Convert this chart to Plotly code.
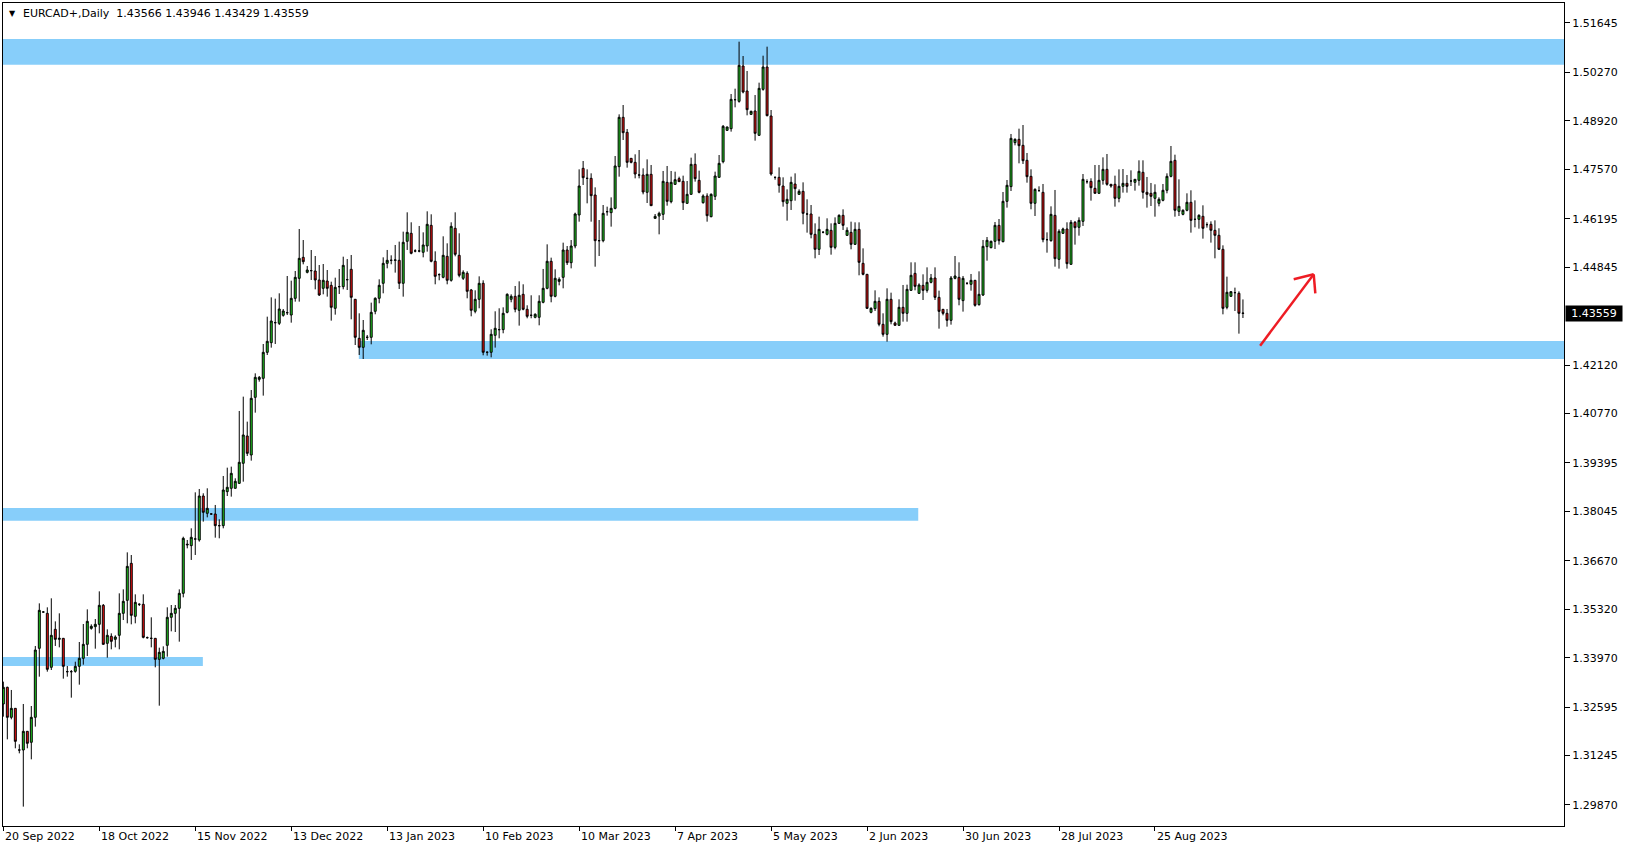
import plotly.graph_objects as go

header_text = "EURCAD+,Daily\u00a0\u00a01.43566 1.43946 1.43429 1.43559"
last_price = 1.43559

date_labels = ["20 Sep 2022", "18 Oct 2022", "15 Nov 2022", "13 Dec 2022", "13 Jan 2023",
               "10 Feb 2023", "10 Mar 2023", "7 Apr 2023", "5 May 2023", "2 Jun 2023",
               "30 Jun 2023", "28 Jul 2023", "25 Aug 2023"]
bars_per_label = 24

price_ticks = [1.51645, 1.50270, 1.48920, 1.47570, 1.46195, 1.44845, 1.42120, 1.40770,
               1.39395, 1.38045, 1.36670, 1.35320, 1.33970, 1.32595, 1.31245, 1.29870]

opens = [
 1.32682,1.33146,1.32311,1.32561,1.31401,1.31401,1.31921,1.31615,1.32311,1.34232,
 1.35243,1.35206,1.33703,1.34761,1.34482,1.34510,1.33582,1.33582,1.33591,1.33730,
 1.33953,1.34343,1.34788,1.34835,1.34900,1.35429,1.34371,1.34566,1.34482,1.34594,
 1.35206,1.35568,1.36598,1.35122,1.35457,1.35457,1.34529,1.34510,1.34510,1.33925,
 1.33953,1.34315,1.35095,1.35206,1.35345,1.35763,1.37109,1.37091,1.37276,1.37248,
 1.38473,1.37991,1.37972,1.37972,1.37647,1.37647,1.38594,1.38687,1.38687,1.38826,
 1.39383,1.40144,1.39615,1.41220,1.41721,1.41749,1.42473,1.42742,1.43299,1.43280,
 1.43503,1.43577,1.43512,1.43976,1.44533,1.45118,1.44700,1.44747,1.44737,1.44487,
 1.44255,1.44459,1.44338,1.43698,1.44301,1.44301,1.44496,1.44784,1.43949,1.42863,
 1.42612,1.42891,1.42891,1.43615,1.43977,1.44395,1.44951,1.45035,1.45035,1.45035,
 1.44395,1.45564,1.45787,1.45295,1.45295,1.45258,1.45434,1.46009,1.45007,1.44636,
 1.44562,1.45146,1.44478,1.45926,1.45174,1.44534,1.44673,1.44209,1.43615,1.43949,
 1.44395,1.42474,1.42474,1.42947,1.43105,1.43105,1.43587,1.43949,1.44033,1.43643,
 1.44088,1.43671,1.43504,1.43448,1.43448,1.43866,1.44255,1.45007,1.44033,1.44449,
 1.44561,1.45322,1.44969,1.45434,1.46297,1.47596,1.47317,1.47317,1.46853,1.45582,
 1.45582,1.46389,1.46362,1.46482,1.47642,1.49016,1.48598,1.47874,1.47763,1.47410,
 1.47410,1.46928,1.47429,1.46204,1.46269,1.46315,1.47206,1.46668,1.47150,1.47308,
 1.47234,1.46621,1.46872,1.47707,1.47262,1.46640,1.46826,1.46250,1.46816,1.47345,
 1.47781,1.48654,1.48700,1.49507,1.49461,1.50445,1.49749,1.49099,1.49192,1.48515,
 1.49795,1.50417,1.49053,1.47345,1.47345,1.47104,1.46621,1.46695,1.47159,1.46872,
 1.46955,1.46324,1.46324,1.45758,1.45341,1.45814,1.45758,1.45870,1.45396,1.46064,
 1.46287,1.45730,1.45814,1.45480,1.45897,1.44951,1.44645,1.43587,1.43689,1.43893,
 1.43253,1.42974,1.43949,1.43290,1.43225,1.43726,1.43559,1.44199,1.44672,1.44116,
 1.44338,1.44199,1.44422,1.44542,1.44004,1.43670,1.43559,1.43364,1.44533,1.44561,
 1.43912,1.44394,1.44367,1.44478,1.43800,1.44069,1.45415,1.45387,1.45564,1.46009,
 1.45554,1.46677,1.47086,1.48311,1.48403,1.48236,1.47819,1.47373,1.46622,1.46974,
 1.46928,1.45610,1.45582,1.46287,1.45062,1.45786,1.45907,1.44923,1.46093,1.45954,
 1.46120,1.47225,1.47234,1.47039,1.46900,1.47262,1.47568,1.47151,1.47151,1.46761,
 1.47095,1.47178,1.47243,1.47206,1.47262,1.47485,1.46928,1.46900,1.46761,1.46622,
 1.46705,1.46984,1.47373,1.47819,1.46399,1.46315,1.46427,1.46650,1.46176,1.46176,
 1.46260,1.46028,1.46037,1.45870,1.45731,1.45341,1.43726,1.44033,1.44135,1.44116,
 1.43566]

highs = [
 1.33304,1.33164,1.33072,1.32570,1.31559,1.32682,1.31930,1.32626,1.34297,1.35484,
 1.35260,1.35373,1.35624,1.34983,1.35206,1.34520,1.33740,1.33628,1.33860,1.34408,
 1.34909,1.35317,1.34900,1.35048,1.35818,1.35466,1.34761,1.34649,1.34594,1.35763,
 1.35874,1.36904,1.36830,1.35735,1.35484,1.35735,1.34560,1.35095,1.34520,1.34250,
 1.34287,1.35373,1.35438,1.35438,1.35874,1.37340,1.37248,1.37573,1.38575,1.38668,
 1.38548,1.38687,1.37990,1.38223,1.37824,1.39030,1.39262,1.39290,1.38965,1.40840,
 1.41239,1.40543,1.41424,1.41888,1.41814,1.42705,1.43466,1.44004,1.43967,1.44116,
 1.43679,1.44598,1.44468,1.44737,1.45907,1.45600,1.44877,1.45322,1.45155,1.44904,
 1.44932,1.44765,1.44440,1.44552,1.44793,1.45136,1.45071,1.45183,1.43958,1.43559,
 1.43373,1.42956,1.43856,1.44005,1.44506,1.45118,1.45323,1.45174,1.45462,1.45555,
 1.45833,1.46371,1.46093,1.45342,1.45991,1.45814,1.46399,1.46316,1.45285,1.44673,
 1.45703,1.45508,1.46093,1.46371,1.45787,1.44757,1.44729,1.44237,1.44200,1.44589,
 1.44478,1.42502,1.43114,1.43615,1.43699,1.43726,1.44116,1.44088,1.44320,1.44450,
 1.44367,1.43782,1.44061,1.43559,1.44061,1.44794,1.45480,1.45109,1.44784,1.44562,
 1.45526,1.45433,1.45600,1.46362,1.47568,1.47800,1.47568,1.47457,1.47067,1.46157,
 1.46575,1.46529,1.46788,1.47939,1.49099,1.49359,1.48691,1.47880,1.47986,1.48106,
 1.47596,1.47846,1.47689,1.46324,1.46389,1.47522,1.47661,1.47522,1.47503,1.47364,
 1.47392,1.47243,1.47893,1.48013,1.47531,1.46872,1.46900,1.46900,1.47503,1.47967,
 1.48802,1.48756,1.49665,1.49814,1.51122,1.50723,1.50306,1.49201,1.49637,1.49981,
 1.50732,1.50983,1.49220,1.47360,1.47623,1.47345,1.47011,1.47364,1.47456,1.47011,
 1.47206,1.46733,1.46575,1.46064,1.46250,1.45851,1.46204,1.46064,1.46231,1.46315,
 1.46454,1.45953,1.46111,1.46092,1.46092,1.45368,1.44654,1.43726,1.44199,1.44004,
 1.43559,1.44255,1.44134,1.43327,1.43949,1.44348,1.44357,1.44979,1.44979,1.44394,
 1.44645,1.44839,1.44654,1.44839,1.44190,1.43680,1.43680,1.44598,1.45155,1.44979,
 1.44599,1.44422,1.44654,1.44487,1.44728,1.45601,1.45684,1.45582,1.46102,1.46185,
 1.46937,1.47271,1.48552,1.48431,1.48700,1.48802,1.48023,1.47568,1.47039,1.47095,
 1.47160,1.45814,1.46538,1.46993,1.45898,1.45944,1.46093,1.46158,1.46130,1.46232,
 1.47438,1.47290,1.47318,1.47689,1.47689,1.47902,1.47995,1.47160,1.47392,1.47568,
 1.47577,1.47410,1.47540,1.47299,1.47819,1.47819,1.47355,1.47188,1.47151,1.46789,
 1.47160,1.47457,1.48218,1.47976,1.47290,1.46455,1.46900,1.46984,1.46705,1.46315,
 1.46566,1.46093,1.46120,1.46148,1.45926,1.45452,1.44580,1.44172,1.44274,1.44172,
 1.43946]

lows = [
 1.32329,1.31698,1.32255,1.31448,1.31308,1.29824,1.31448,1.31141,1.32051,1.33443,
 1.35230,1.33582,1.33628,1.34297,1.34259,1.33387,1.33443,1.32858,1.33554,1.33220,
 1.33777,1.34018,1.34751,1.34222,1.34649,1.34330,1.33972,1.34204,1.34259,1.34204,
 1.35020,1.34928,1.34900,1.34928,1.35410,1.34510,1.34500,1.34259,1.33703,1.32635,
 1.33925,1.34000,1.34705,1.34686,1.34417,1.35651,1.37016,1.36692,1.36831,1.37202,
 1.37759,1.37879,1.37955,1.37313,1.37295,1.37573,1.38473,1.38455,1.38678,1.38807,
 1.38872,1.39587,1.39457,1.40793,1.41656,1.41267,1.42399,1.42603,1.42705,1.43234,
 1.43466,1.43512,1.43299,1.43884,1.43884,1.44923,1.44672,1.44487,1.44227,1.44041,
 1.44088,1.44023,1.43355,1.43522,1.44097,1.44227,1.44208,1.43392,1.42677,1.42399,
 1.42287,1.42816,1.42696,1.43532,1.43838,1.44116,1.44812,1.44924,1.44692,1.44237,
 1.44023,1.45323,1.45202,1.45258,1.45258,1.45118,1.45276,1.44979,1.44367,1.44478,
 1.44534,1.44367,1.44441,1.45146,1.44562,1.44487,1.43977,1.43476,1.43559,1.43699,
 1.42390,1.42381,1.42334,1.42604,1.42863,1.43003,1.43559,1.43866,1.43587,1.43216,
 1.43643,1.43420,1.43420,1.43420,1.43225,1.43838,1.44228,1.43866,1.44005,1.44338,
 1.44255,1.44904,1.44811,1.45369,1.46111,1.47132,1.46621,1.46111,1.44857,1.45155,
 1.45536,1.46278,1.45972,1.46454,1.47364,1.48385,1.47614,1.47735,1.47317,1.47317,
 1.46872,1.46631,1.46547,1.46185,1.45758,1.46157,1.46556,1.46621,1.47132,1.47215,
 1.46436,1.46612,1.46863,1.47225,1.46900,1.46612,1.46111,1.46232,1.46714,1.47336,
 1.47735,1.48635,1.48617,1.49294,1.49424,1.49684,1.49071,1.49080,1.48366,1.48496,
 1.49758,1.49043,1.47392,1.47280,1.46918,1.46528,1.46139,1.46436,1.46695,1.46863,
 1.46037,1.45805,1.45647,1.45090,1.45183,1.45786,1.45730,1.45192,1.45341,1.46046,
 1.45879,1.45712,1.45341,1.45461,1.44617,1.44617,1.43679,1.43559,1.43624,1.43197,
 1.42909,1.42770,1.43253,1.43216,1.43216,1.43327,1.43327,1.44190,1.44199,1.44097,
 1.43930,1.44134,1.44394,1.43930,1.43132,1.43503,1.43188,1.43243,1.44505,1.43782,
 1.43606,1.44357,1.44190,1.43745,1.43773,1.44042,1.45025,1.45369,1.45350,1.45471,
 1.45536,1.46501,1.46965,1.48236,1.47735,1.47717,1.47197,1.46455,1.46269,1.46956,
 1.45536,1.45248,1.45554,1.44858,1.44803,1.45768,1.44803,1.44923,1.45471,1.45721,
 1.45991,1.47169,1.46696,1.46900,1.46891,1.47141,1.47113,1.47058,1.46529,1.46650,
 1.46919,1.46919,1.47104,1.46974,1.47113,1.46752,1.46501,1.46547,1.46250,1.46538,
 1.46677,1.46900,1.47345,1.46250,1.46269,1.46288,1.46399,1.45805,1.45953,1.45916,
 1.45638,1.45944,1.45527,1.45090,1.45322,1.43531,1.43671,1.44014,1.43624,1.42993,
 1.43429]

closes = [
 1.33146,1.32311,1.32561,1.31642,1.31401,1.31921,1.31587,1.32311,1.34185,1.35290,
 1.35243,1.33647,1.34594,1.34482,1.34510,1.33730,1.33582,1.33582,1.33730,1.33953,
 1.34343,1.34983,1.34844,1.34900,1.35429,1.34343,1.34594,1.34426,1.34547,1.35206,
 1.35540,1.36514,1.35150,1.35512,1.35457,1.34538,1.34529,1.34510,1.33925,1.34120,
 1.34148,1.35095,1.35206,1.35345,1.35763,1.37294,1.37127,1.37323,1.37276,1.38473,
 1.38019,1.38130,1.37972,1.37647,1.37647,1.38640,1.38715,1.39104,1.38882,1.39411,
 1.40172,1.39661,1.41192,1.41777,1.41777,1.42473,1.42779,1.43345,1.43299,1.43679,
 1.43624,1.43577,1.43976,1.44561,1.45090,1.44997,1.44765,1.44747,1.44487,1.44069,
 1.44478,1.44255,1.43726,1.44283,1.44301,1.44895,1.44496,1.44004,1.42891,1.42612,
 1.43086,1.42891,1.43587,1.43977,1.44339,1.44951,1.45035,1.45035,1.45044,1.44395,
 1.45536,1.45814,1.45230,1.45295,1.45295,1.45462,1.46037,1.45007,1.44589,1.44636,
 1.45174,1.44478,1.45981,1.45202,1.44617,1.44701,1.44172,1.43643,1.43949,1.44395,
 1.42474,1.42474,1.42975,1.43142,1.43105,1.43559,1.44088,1.44033,1.43671,1.44061,
 1.43671,1.43476,1.43504,1.43532,1.43893,1.44255,1.45007,1.44033,1.44534,1.44505,
 1.45322,1.44969,1.45433,1.46324,1.47104,1.47336,1.47317,1.46835,1.45582,1.45582,
 1.46343,1.46389,1.46482,1.47661,1.49016,1.48589,1.47763,1.47763,1.47438,1.47410,
 1.46937,1.47429,1.46556,1.46259,1.46343,1.47234,1.46677,1.47206,1.47280,1.47225,
 1.46640,1.46872,1.47707,1.47308,1.46928,1.46826,1.46278,1.46872,1.47382,1.47735,
 1.48765,1.48747,1.49517,1.49507,1.50463,1.49721,1.49229,1.49183,1.48570,1.49823,
 1.50417,1.49062,1.47438,1.47345,1.47122,1.46668,1.46733,1.47206,1.47030,1.46955,
 1.46343,1.46324,1.45758,1.45341,1.45897,1.45814,1.45897,1.45396,1.46064,1.46287,
 1.46009,1.45870,1.45480,1.45897,1.44979,1.44645,1.43698,1.43698,1.43893,1.43253,
 1.42974,1.43949,1.43327,1.43225,1.43726,1.43559,1.44227,1.44617,1.44310,1.44348,
 1.44199,1.44422,1.44542,1.44004,1.43614,1.43559,1.43364,1.44542,1.44598,1.43949,
 1.44534,1.44394,1.44478,1.43782,1.44088,1.45424,1.45592,1.45564,1.46009,1.45582,
 1.46677,1.47123,1.48431,1.48403,1.48227,1.47809,1.47364,1.46622,1.47011,1.46974,
 1.45610,1.45610,1.46315,1.45081,1.45842,1.45907,1.44942,1.46093,1.45944,1.46148,
 1.47290,1.47225,1.47058,1.46900,1.47262,1.47568,1.47151,1.47104,1.46761,1.47095,
 1.47178,1.47095,1.47243,1.47290,1.47512,1.46928,1.46872,1.46816,1.46928,1.46733,
 1.46984,1.47373,1.47791,1.46427,1.46538,1.46427,1.46650,1.46148,1.46176,1.46288,
 1.45926,1.46028,1.45870,1.45731,1.45341,1.43698,1.44144,1.44162,1.44135,1.43559,
 1.43559]

# support / resistance zones (price bands, bar index spans)
zone_top = [1.51197, 1.42788, 1.38139, 1.33990]
zone_bottom = [1.50481, 1.42287, 1.37785, 1.33740]
zone_start_bar = [-0.1, 88.9, -0.1, -0.1]
zone_end_bar = [390.3, 390.3, 228.8, 49.9]

# hand-drawn arrow (bar index, price)
arrow_tail = (314.3, 1.42658)
arrow_tip = (327.7, 1.44645)
arrow_barb1 = (322.7, 1.44506)
arrow_barb2 = (328.1, 1.44117)

x_bars = list(range(len(opens)))
FONT = "DejaVu Sans"

fig = go.Figure()
fig.add_trace(go.Candlestick(
    x=x_bars, open=opens, high=highs, low=lows, close=closes,
    increasing=dict(line=dict(color="black", width=1), fillcolor="#22cc22"),
    decreasing=dict(line=dict(color="black", width=1), fillcolor="#ee1111"),
    whiskerwidth=0, showlegend=False, hoverinfo="skip",
))

shapes = []
for t, b, s, e in zip(zone_top, zone_bottom, zone_start_bar, zone_end_bar):
    shapes.append(dict(type="rect", xref="x", yref="y", x0=s, x1=e, y0=b, y1=t,
                       fillcolor="#87cefa", line=dict(width=0), layer="below"))
for p0, p1 in [(arrow_tail, arrow_tip), (arrow_tip, arrow_barb1), (arrow_tip, arrow_barb2)]:
    shapes.append(dict(type="line", xref="x", yref="y", x0=p0[0], y0=p0[1], x1=p1[0], y1=p1[1],
                       line=dict(color="#ee1c24", width=2.5), layer="above"))

annotations = [
    dict(text="\u25bc", xref="paper", yref="paper", x=0.0025, y=1, xanchor="left", yanchor="top",
         yshift=-4, showarrow=False, font=dict(family=FONT, size=8, color="black")),
    dict(text=header_text, xref="paper", yref="paper", x=0.0115, y=1, xanchor="left", yanchor="top",
         yshift=-2, showarrow=False, font=dict(family=FONT, size=11, color="black")),
    dict(text=f"{last_price:.5f}", xref="paper", yref="y", x=1, y=last_price, xanchor="left",
         yanchor="middle", xshift=1, showarrow=False, bgcolor="black", borderpad=1,
         width=54, height=13, font=dict(family=FONT, size=11, color="white")),
]
for k, lab in enumerate(date_labels):
    annotations.append(dict(text=lab, xref="x", yref="paper", x=k * bars_per_label, y=0,
                            xanchor="left", yanchor="top", yshift=-2, showarrow=False,
                            font=dict(family=FONT, size=11, color="black")))

fig.update_layout(
    width=1629, height=850,
    margin=dict(l=3, r=65, t=3, b=24),
    paper_bgcolor="white", plot_bgcolor="white",
    shapes=shapes, annotations=annotations,
    xaxis=dict(range=[-0.08, 390.29], showgrid=False, zeroline=False, showline=True, mirror=True,
               linecolor="black", linewidth=1, ticks="outside", ticklen=4, tickcolor="black",
               tickvals=[k * bars_per_label for k in range(len(date_labels))],
               showticklabels=False, rangeslider=dict(visible=False), fixedrange=True),
    yaxis=dict(range=[1.29285, 1.52199], side="right", showgrid=False, zeroline=False,
               showline=True, mirror=True, linecolor="black", linewidth=1,
               ticks="outside", ticklen=5, tickcolor="black",
               tickvals=price_ticks, ticktext=[f"{v:.5f}" for v in price_ticks],
               tickfont=dict(family=FONT, size=11, color="black"), fixedrange=True),
)

fig.write_html("out.html", config={"displayModeBar": False},
               post_script="document.body.style.margin='0px';document.body.style.overflow='hidden';")
